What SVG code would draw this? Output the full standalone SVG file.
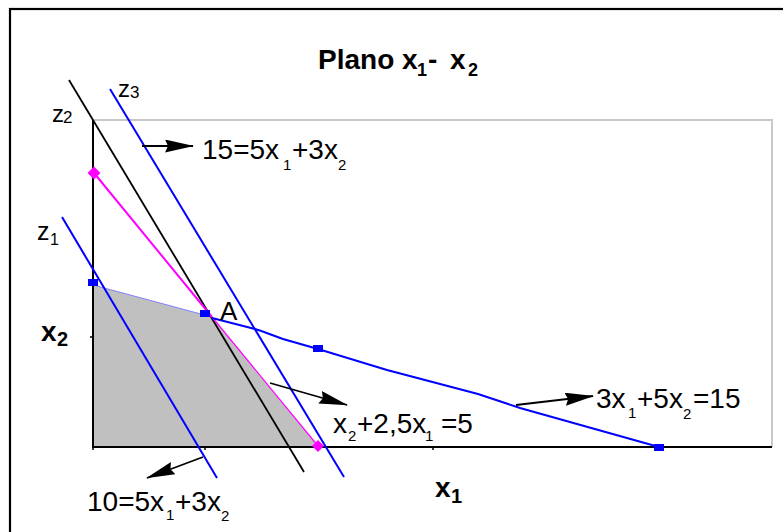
<svg xmlns="http://www.w3.org/2000/svg" width="783" height="532" viewBox="0 0 783 532">
<style>
text{font-family:"Liberation Sans",Arial,sans-serif;fill:#000}
.t{font-size:28px}
.s{font-size:15px}
.b{font-weight:bold}
.blue{stroke:#0000ff;fill:none;stroke-width:2}
.blk{stroke:#000;fill:none;stroke-width:1.8}
.arr{stroke:#000;stroke-width:1.8;fill:none;marker-end:url(#ah)}
.sq{fill:#0000ff}
.dm{fill:#ff00ff}
</style>
<defs>
<marker id="ah" markerWidth="29" markerHeight="13" refX="28" refY="6.5" orient="auto" markerUnits="userSpaceOnUse">
<path d="M0,0 L29,6.5 L0,13 L3,6.5 Z" fill="#000"/>
</marker>
</defs>
<rect width="783" height="532" fill="#fff"/>
<g id="frame">
<rect x="10" y="9" width="800" height="600" fill="none" stroke="#000" stroke-width="2.2"/>
</g>
<g id="title">
<text x="318" y="69" class="b" font-size="28">Plano x<tspan x="417" y="76" font-size="18">1</tspan><tspan x="428" y="69">-</tspan><tspan x="450" y="69">x</tspan><tspan x="468" y="76" font-size="18">2</tspan></text>
</g>
<g id="plot">
<polygon points="93,285 212,317 318,446 93,446" fill="#c0c0c0"/>
<line x1="93" y1="285" x2="212" y2="317" stroke="#8080ff" stroke-width="1"/>
<polyline points="93,120 772,120 772,447" fill="none" stroke="#c8c8c8" stroke-width="2"/>
<polyline points="93,120 93,447 772,447" fill="none" stroke="#000" stroke-width="2"/>
<path d="M90,337 H93 M93,447 V450 M205,447 V450 M433,447 V450" stroke="#000" stroke-width="1.5"/>
</g>
<g id="line-z1"><line class="blue" x1="62" y1="217" x2="217" y2="478"/></g>
<g id="line-z2"><line class="blk" x1="69" y1="80" x2="304" y2="472"/></g>
<g id="line-z3"><line class="blue" x1="110" y1="89" x2="344" y2="477"/></g>
<g id="line-magenta">
<line x1="94" y1="173" x2="212" y2="317" stroke="#ff00ff" stroke-width="2"/>
<line x1="212" y1="317" x2="318" y2="446" stroke="#ff00ff" stroke-width="1.2"/>
<path class="dm" d="M94,166.5 L100.5,173 L94,179.5 L87.5,173 Z"/>
<path class="dm" d="M318,440 L324,446 L318,452 L312,446 Z"/>
</g>
<g id="line-c2">
<path class="blue" d="M212,318 L255,329 Q262,331 268,333.5 L283,339 L318,349 L387,370 L478,394 L520,408 L659,447"/>
<rect class="sq" x="88" y="279" width="10" height="7"/>
<rect class="sq" x="200" y="310" width="10" height="7"/>
<rect class="sq" x="313" y="345" width="10" height="7"/>
<rect class="sq" x="654" y="444" width="10" height="7"/>
</g>
<g id="labels">
<text x="118" y="97" font-size="24">z<tspan x="130" y="98" font-size="17">3</tspan></text>
<text x="52" y="122" font-size="24">z<tspan x="63" y="123" font-size="17">2</tspan></text>
<text x="37" y="240" font-size="25">z<tspan x="50" y="245" font-size="16">1</tspan></text>
<text x="41" y="341" class="b" font-size="28">x<tspan x="57" y="346" font-size="20">2</tspan></text>
<text x="435" y="497" class="b" font-size="28">x<tspan x="451" y="503" font-size="20">1</tspan></text>
<text x="220" y="320" font-size="26">A</text>
<text x="202" y="159" class="t">15=5x<tspan x="283" y="170" class="s">1</tspan><tspan x="292" y="159">+3x</tspan><tspan x="338" y="170" class="s">2</tspan></text>
<text x="596" y="408" class="t">3x<tspan x="628" y="418" class="s">1</tspan><tspan x="637" y="408">+5x</tspan><tspan x="683" y="419" class="s">2</tspan><tspan x="693" y="408">=15</tspan></text>
<text x="333" y="433" class="t">x<tspan x="348" y="441" class="s">2</tspan><tspan x="357" y="433">+2,5x</tspan><tspan x="425" y="441" class="s">1</tspan><tspan x="441" y="433">=5</tspan></text>
<text x="87" y="511" class="t">10=5x<tspan x="166" y="520" class="s">1</tspan><tspan x="175" y="511">+3x</tspan><tspan x="221" y="521" class="s">2</tspan></text>
</g>
<g id="connectors">
<line class="arr" x1="142" y1="146" x2="193" y2="146"/>
<line class="arr" x1="270" y1="383" x2="347" y2="405"/>
<line class="arr" x1="516" y1="405" x2="593" y2="396"/>
<line class="arr" x1="203" y1="457" x2="147" y2="478"/>
</g>
</svg>
